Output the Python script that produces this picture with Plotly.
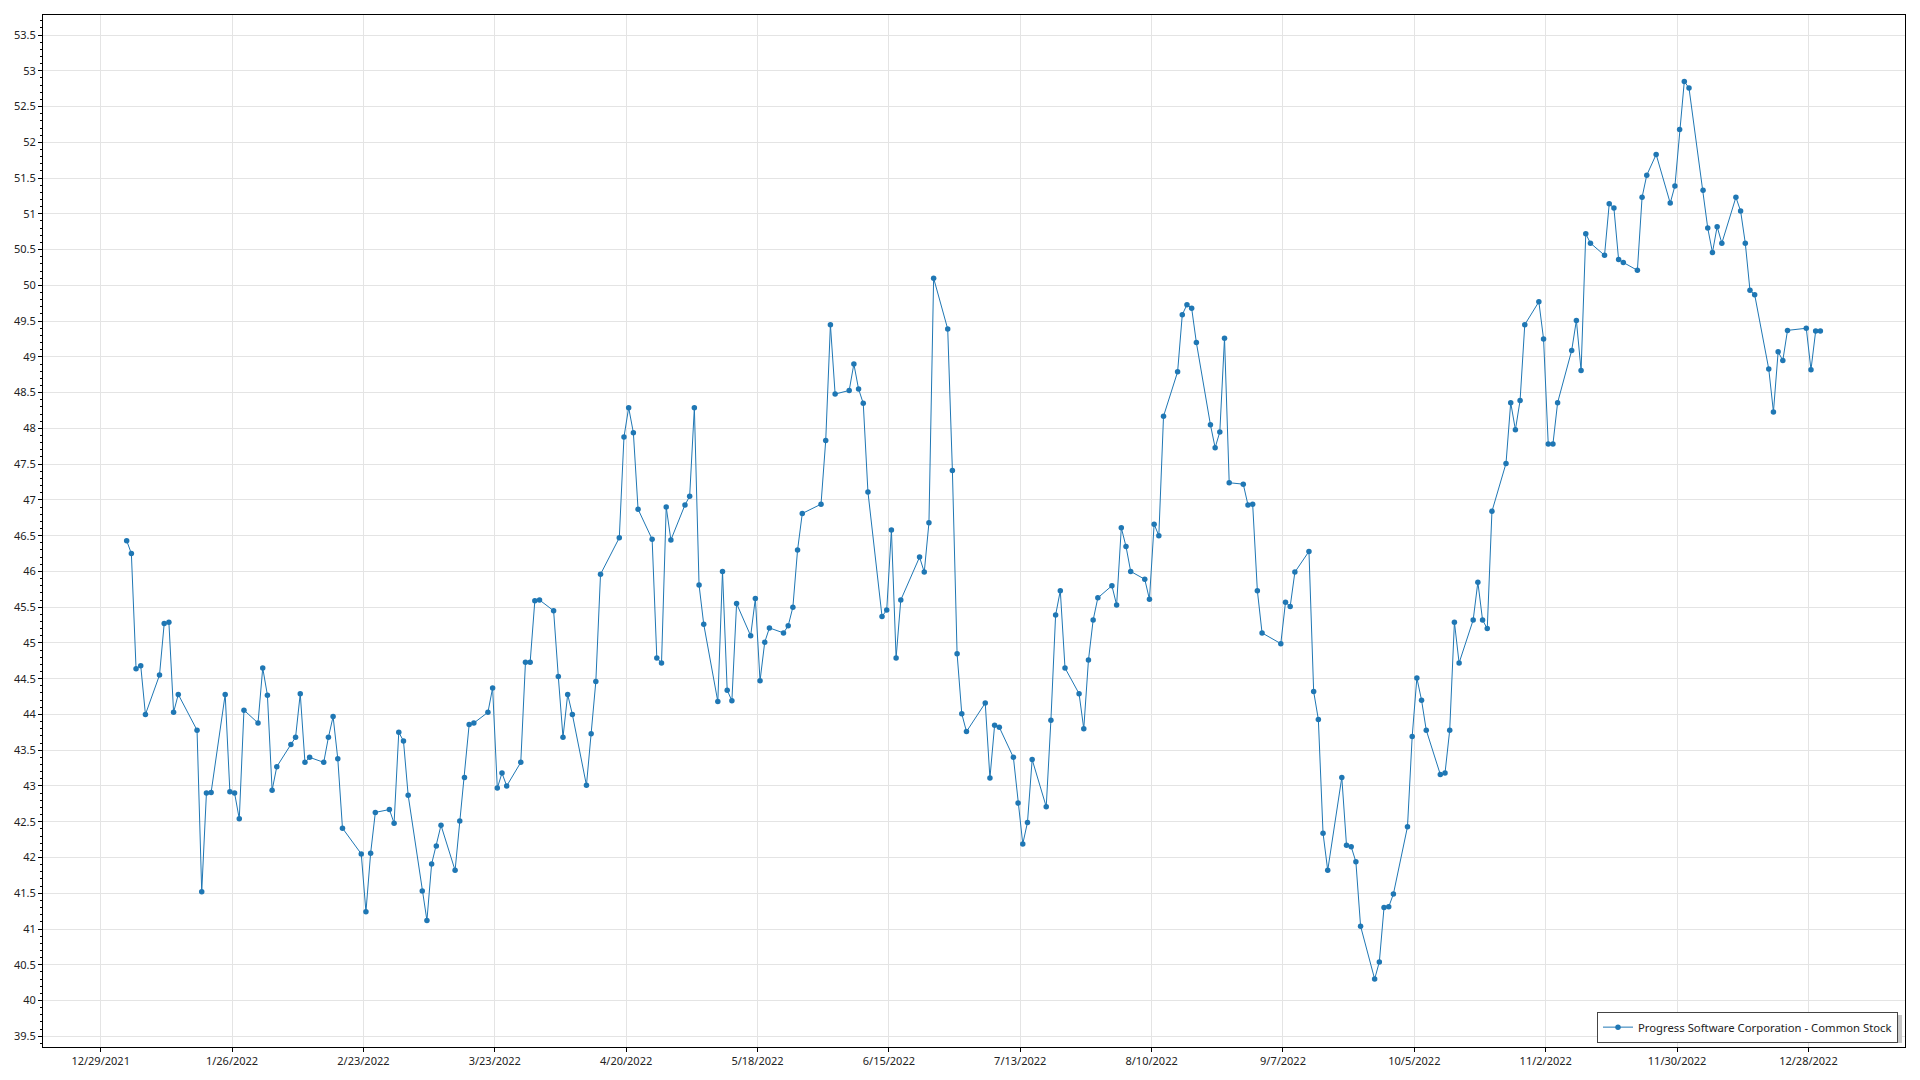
import pandas as pd
import plotly.graph_objects as go

# NYSE trading calendar 2022
holidays_2022 = ["2022-01-17", "2022-02-21", "2022-04-15", "2022-05-30", "2022-06-20",
                 "2022-07-04", "2022-09-05", "2022-11-24", "2022-12-26"]
trading_days = pd.bdate_range("2022-01-03", "2022-12-30", freq="C", holidays=holidays_2022)

series_name = "Progress Software Corporation - Common Stock"

jan = [46.43, 46.25, 44.64, 44.68, 44.00, 44.55, 45.27, 45.29, 44.03, 44.28,
       43.78, 41.52, 42.90, 42.91, 44.28, 42.92, 42.90, 42.54, 44.06, 43.88]
feb = [44.65, 44.27, 42.94, 43.27, 43.58, 43.68, 44.29, 43.33, 43.40, 43.33,
       43.68, 43.97, 43.38, 42.41, 42.05, 41.24, 42.06, 42.63, 42.67]
mar = [42.48, 43.75, 43.63, 42.87, 41.53, 41.12, 41.91, 42.16, 42.45, 41.82,
       42.51, 43.12, 43.86, 43.88, 44.03, 44.37, 42.97, 43.18, 43.00, 43.33,
       44.73, 44.73, 45.59]
apr = [45.60, 45.45, 44.53, 43.68, 44.28, 44.00, 43.01, 43.73, 44.46, 45.96,
       46.47, 47.88, 48.29, 47.94, 46.87, 46.45, 44.79, 44.72, 46.90, 46.44]
may = [46.93, 47.05, 48.29, 45.81, 45.26, 44.18, 46.00, 44.34, 44.19, 45.55,
       45.10, 45.62, 44.47, 45.01, 45.21, 45.14, 45.24, 45.50, 46.30, 46.81,
       46.94]
jun = [47.83, 49.45, 48.48, 48.53, 48.90, 48.55, 48.35, 47.11, 45.37, 45.46,
       46.58, 44.79, 45.60, 46.20, 45.99, 46.68, 50.10, 49.39, 47.41, 44.85,
       44.01]
jul = [43.76, 44.16, 43.11, 43.85, 43.82, 43.40, 42.76, 42.19, 42.49, 43.37,
       42.71, 43.92, 45.39, 45.73, 44.65, 44.29, 43.80, 44.76, 45.32, 45.63]
aug = [45.80, 45.53, 46.61, 46.35, 46.00, 45.89, 45.61, 46.66, 46.50, 48.17,
       48.79, 49.59, 49.73, 49.68, 49.20, 48.05, 47.73, 47.95, 49.26, 47.24,
       47.22, 46.93, 46.94]
sep = [45.73, 45.14, 44.99, 45.57, 45.51, 45.99, 46.28, 44.32, 43.93, 42.34,
       41.82, 43.12, 42.17, 42.15, 41.94, 41.04, 40.30, 40.54, 41.30, 41.31,
       41.49]
oct = [42.43, 43.69, 44.51, 44.20, 43.78, 43.16, 43.18, 43.78, 45.29, 44.72,
       45.32, 45.85, 45.32, 45.20, 46.84, 47.51, 48.36, 47.98, 48.39, 49.45,
       49.77]
nov = [49.25, 47.78, 47.78, 48.36, 49.09, 49.51, 48.81, 50.72, 50.59, 50.42,
       51.14, 51.08, 50.36, 50.32, 50.21, 51.23, 51.54, 51.83, 51.15, 51.39,
       52.18]
dec = [52.85, 52.76, 51.33, 50.80, 50.46, 50.82, 50.59, 51.23, 51.04, 50.59,
       49.93, 49.87, 48.83, 48.23, 49.07, 48.95, 49.37, 49.40, 48.82, 49.36,
       49.36]

prices = jan + feb + mar + apr + may + jun + jul + aug + sep + oct + nov + dec
n = min(len(prices), len(trading_days))
x_dates = (trading_days[:n] + pd.Timedelta(hours=13))
y_vals = prices[:n]

line_color = "#1f77b4"
font_family = "Noto Sans, Open Sans, DejaVu Sans, sans-serif"

W, H = 1920, 1080
ML, MR, MT, MB = 43, 15, 15, 30
PW, PH = W - ML - MR, H - MT - MB


def px_to_paper_x(px):
    return (px - ML) / PW


def px_to_paper_y(py):
    return (H - MB - py) / PH


fig = go.Figure()
fig.add_trace(go.Scatter(
    x=x_dates, y=y_vals, mode="lines+markers", name=series_name,
    line=dict(color=line_color, width=1),
    marker=dict(color=line_color, size=5.5),
    showlegend=True,
))

# soft drop shadow behind the legend box
fig.add_shape(
    type="rect", xref="paper", yref="paper", layer="above",
    x0=px_to_paper_x(1603), x1=px_to_paper_x(1902),
    y0=px_to_paper_y(1046), y1=px_to_paper_y(1018),
    fillcolor="#c8c8c8", line=dict(width=0),
)

grid_color = "#e4e4e4"
fig.update_layout(
    width=W, height=H,
    margin=dict(l=ML, r=MR, t=MT, b=MB, pad=0),
    paper_bgcolor="white", plot_bgcolor="white",
    font=dict(family=font_family, size=11, color="#222222"),
    showlegend=True,
    legend=dict(
        x=px_to_paper_x(1898), y=px_to_paper_y(1042) - 0.0035,
        xanchor="right", yanchor="bottom",
        bgcolor="white", bordercolor="#444444", borderwidth=1,
        font=dict(size=11.3, color="#222222"),
        itemwidth=30,
    ),
    xaxis=dict(
        type="date",
        range=["2021-12-16 17:00", "2023-01-17 14:00"],
        tick0="2021-12-29", dtick=28 * 86400000,
        tickformat="%-m/%-d/%Y",
        showgrid=True, gridcolor=grid_color, gridwidth=1,
        showline=True, linecolor="black", linewidth=1, mirror=True,
        ticks="outside", ticklen=4, tickcolor="black",
        zeroline=False,
    ),
    yaxis=dict(
        range=[39.35, 53.78],
        tick0=0, dtick=0.5,
        showgrid=True, gridcolor=grid_color, gridwidth=1,
        showline=True, linecolor="black", linewidth=1, mirror=True,
        ticks="outside", ticklen=4, tickcolor="black",
        minor=dict(dtick=0.1, ticks="outside", ticklen=2, tickcolor="black", showgrid=False),
        zeroline=False,
    ),
)

fig.write_html("out.html", config={"displayModeBar": False},
               post_script="document.body.style.margin='0px';")
